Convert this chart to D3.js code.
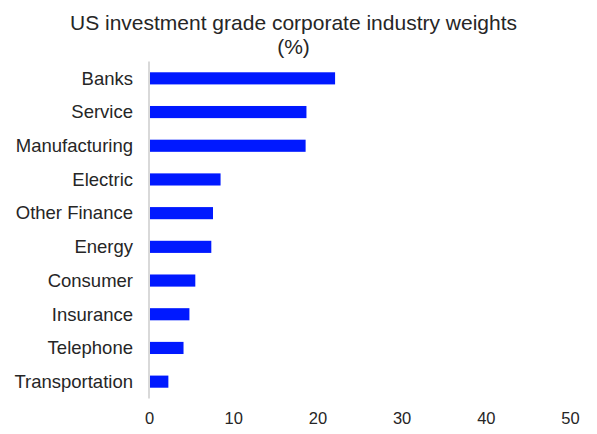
<!DOCTYPE html>
<html>
<head>
<meta charset="utf-8">
<script src="https://cdn.jsdelivr.net/npm/d3@7"></script>
<style>
  html, body { margin: 0; padding: 0; background: #fff; }
  svg { display: block; font-family: "Liberation Sans", Arial, sans-serif; }
</style>
</head>
<body>
<svg id="chart" width="597" height="434"></svg>
<script>
// Industry weights of the US investment grade corporate index (%)
const categories = ["Banks", "Service", "Manufacturing", "Electric", "Other Finance",
                    "Energy", "Consumer", "Insurance", "Telephone", "Transportation"];
const weights = [22.1, 18.7, 18.6, 8.5, 7.6, 7.4, 5.5, 4.8, 4.1, 2.3];
const tickValues = [0, 10, 20, 30, 40, 50];

const svg = d3.select("#chart");
const plotLeft = 149, plotRight = 570, plotTop = 61.5, plotBottom = 398.5;
const textColor = "#262626";

const x = d3.scaleLinear().domain([0, 50]).range([plotLeft, plotRight]);
const y = d3.scaleBand().domain(categories).range([plotTop, plotBottom]).paddingInner(0.64).paddingOuter(0.32);

// Title
svg.append("text")
  .attr("x", 293.5).attr("y", 29.5)
  .attr("text-anchor", "middle")
  .attr("font-size", 21).attr("fill", textColor)
  .text("US investment grade corporate industry weights");
svg.append("text")
  .attr("x", 293.5).attr("y", 54)
  .attr("text-anchor", "middle")
  .attr("font-size", 21).attr("fill", textColor)
  .text("(%)");

// Bars
svg.append("g").selectAll("rect")
  .data(categories.map((c, i) => ({ c, v: weights[i] })))
  .join("rect")
  .attr("x", x(0) + 1)
  .attr("y", d => y(d.c))
  .attr("width", d => x(d.v) - x(0) - 1)
  .attr("height", y.bandwidth())
  .attr("fill", "#0019ff");

// Category axis
const yAxis = svg.append("g")
  .attr("transform", `translate(${x(0)},0)`)
  .call(d3.axisLeft(y).tickSize(0).tickPadding(16));
yAxis.select(".domain").attr("stroke", "#d9d9d9").attr("stroke-width", 2)
  .attr("d", `M0,${plotTop}V${plotBottom}`);
yAxis.selectAll("text").attr("font-size", 18.5).attr("fill", textColor)
  .attr("dy", "0.34em")
  .attr("font-family", "Liberation Sans, Arial, sans-serif");

// Value axis (labels only)
const xAxis = svg.append("g")
  .attr("transform", `translate(0,${plotBottom})`)
  .call(d3.axisBottom(x).tickValues(tickValues).tickSize(0).tickPadding(14));
xAxis.select(".domain").remove();
xAxis.selectAll("text").attr("font-size", 16.5).attr("fill", textColor)
  .attr("font-family", "Liberation Sans, Arial, sans-serif");
</script>
</body>
</html>
